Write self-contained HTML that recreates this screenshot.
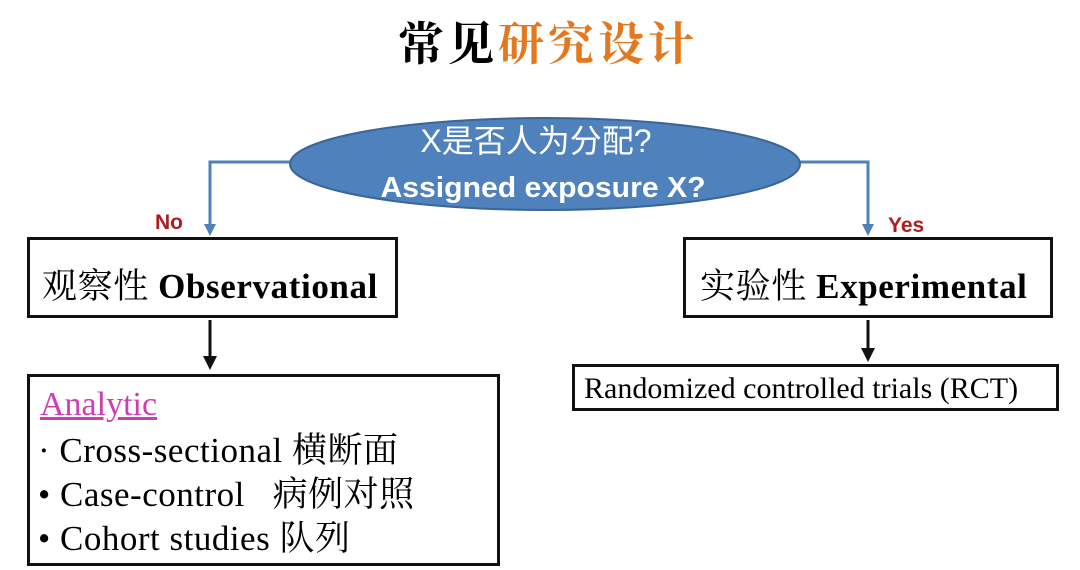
<!DOCTYPE html>
<html><head><meta charset="utf-8"><style>
body{margin:0;width:1080px;height:570px;background:#fff;position:relative;overflow:hidden;font-family:"Liberation Serif","Noto Serif CJK SC",serif}
.a{position:absolute;white-space:nowrap;line-height:1}
.box{position:absolute;border:3px solid #111;box-sizing:border-box}
</style></head><body>
<div class="a" style="left:398px;top:22px;font-size:46px;font-weight:bold;font-family:'Liberation Serif','Noto Serif CJK SC',serif;letter-spacing:4px"><span style="color:#000">常见</span><span style="color:#e3781e">研究设计</span></div>
<svg class="a" style="left:0;top:0" width="1080" height="570">
<polyline points="295,162 210,162 210,232" fill="none" stroke="#4f81bd" stroke-width="3"/>
<polygon points="204,224 216,224 210,236" fill="#4f81bd"/>
<polyline points="795,162 868,162 868,232" fill="none" stroke="#4f81bd" stroke-width="3"/>
<polygon points="862,224 874,224 868,236" fill="#4f81bd"/>
<ellipse cx="545" cy="164" rx="255" ry="46" fill="#4f81bd" stroke="#3a6597" stroke-width="2"/>
<text x="536" y="152" text-anchor="middle" fill="#fff" font-size="32" font-family="Liberation Sans, Noto Sans CJK SC, sans-serif">X是否人为分配?</text>
<text x="543" y="197" text-anchor="middle" fill="#fff" font-size="29" font-weight="bold" font-family="Liberation Sans, Noto Sans CJK SC, sans-serif" textLength="325" lengthAdjust="spacingAndGlyphs">Assigned exposure X?</text>
<line x1="210" y1="320" x2="210" y2="358" stroke="#111" stroke-width="3"/>
<polygon points="203,356 217,356 210,370" fill="#111"/>
<line x1="868" y1="320" x2="868" y2="350" stroke="#111" stroke-width="3"/>
<polygon points="861,348 875,348 868,362" fill="#111"/>
<text x="155" y="229" fill="#b01c1c" font-size="21" font-weight="bold" font-family="Liberation Sans, sans-serif">No</text>
<text x="888" y="232" fill="#b01c1c" font-size="21" font-weight="bold" font-family="Liberation Sans, sans-serif">Yes</text>
</svg>
<div class="box" style="left:27px;top:237px;width:371px;height:81px"></div>
<div class="a" style="left:42px;top:269px;font-size:35px;letter-spacing:0.6px">观察性 <b>Observational</b></div>
<div class="box" style="left:683px;top:237px;width:370px;height:81px"></div>
<div class="a" style="left:700px;top:269px;font-size:35px;letter-spacing:0.6px">实验性 <b>Experimental</b></div>
<div class="box" style="left:27px;top:374px;width:473px;height:192px"></div>
<div class="a" style="left:40px;top:388px;font-size:34px;color:#cc3fb4;text-decoration:underline">Analytic</div>
<div class="a" style="left:38px;top:433px;font-size:35px;letter-spacing:0.5px">· Cross-sectional 横断面</div>
<div class="a" style="left:38px;top:477px;font-size:35px;letter-spacing:0.5px">• Case-control &nbsp; 病例对照</div>
<div class="a" style="left:38px;top:521px;font-size:35px;letter-spacing:0.5px">• Cohort studies 队列</div>
<div class="box" style="left:572px;top:364px;width:487px;height:47px"></div>
<div class="a" style="left:584px;top:374px;font-size:30px">Randomized controlled trials (RCT)</div>
</body></html>
